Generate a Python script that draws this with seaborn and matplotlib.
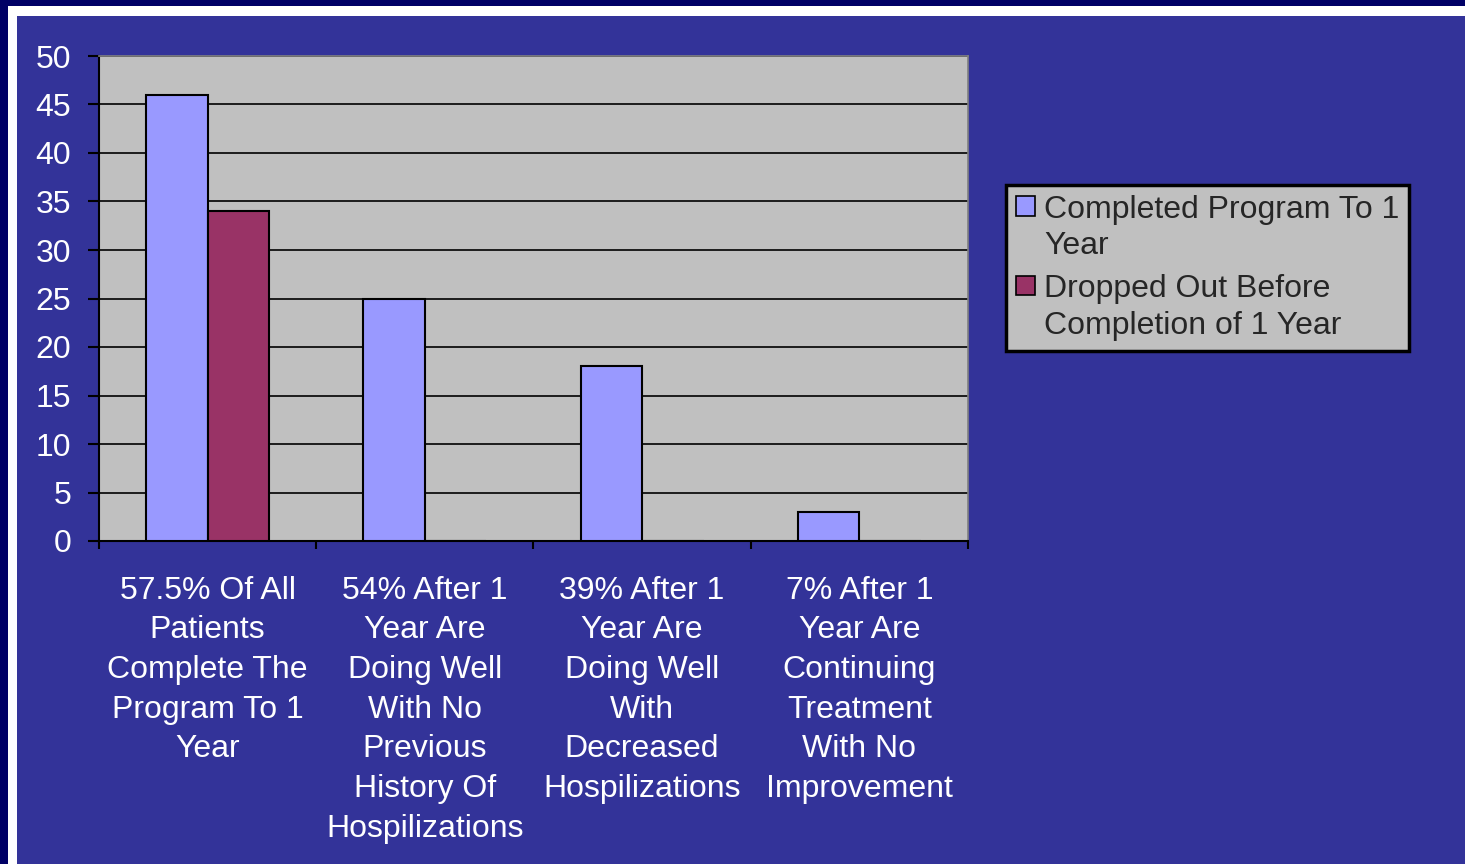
import seaborn as sns
import matplotlib.pyplot as plt
import matplotlib.patches as mpatches
from matplotlib.legend_handler import HandlerPatch
from matplotlib.ticker import FixedLocator, NullFormatter
import pandas as pd

# data
categories = [
    "57.5% Of All\nPatients\nComplete The\nProgram To 1\nYear",
    "54% After 1\nYear Are\nDoing Well\nWith No\nPrevious\nHistory Of\nHospilizations",
    "39% After 1\nYear Are\nDoing Well\nWith\nDecreased\nHospilizations",
    "7% After 1\nYear Are\nContinuing\nTreatment\nWith No\nImprovement",
]
series = ["Completed Program To 1\nYear", "Dropped Out Before\nCompletion of 1 Year"]
completed = [46, 25, 18, 3]
dropped = [34, 0, 0, 0]

df = pd.DataFrame({
    "Category": categories * 2,
    "Series": [series[0]] * 4 + [series[1]] * 4,
    "Value": completed + dropped,
})

sns.set_style("white")
plt.rcParams["font.family"] = ["Liberation Sans", "DejaVu Sans"]
FS = 23

navy = "#000066"
blue = "#333399"
fig = plt.figure(figsize=(14.65, 8.64), dpi=100, facecolor=navy)
W, H = 1465, 864
# white rim and blue slide panel
fig.patches.append(mpatches.Rectangle((8 / W, 0), 1, 1 - 6 / H, transform=fig.transFigure,
                                      facecolor="white", edgecolor="none", zorder=-2))
fig.patches.append(mpatches.Rectangle((17 / W, 0), 1, 1 - 16 / H, transform=fig.transFigure,
                                      facecolor=blue, edgecolor="none", zorder=-1))

ax = fig.add_axes([99 / W, 1 - 541 / H, 869 / W, 485 / H])
ax.set_facecolor("#C0C0C0")

sns.barplot(data=df, x="Category", y="Value", hue="Series",
            palette=["#9999FF", "#993366"], saturation=1, width=0.566,
            edgecolor="black", linewidth=1.5, ax=ax, zorder=3)

ax.set_ylim(0, 50)
ax.set_xlim(-0.5, 3.5)
ax.set_yticks(range(0, 51, 5))
ax.yaxis.grid(True, color="black", linewidth=1.2, zorder=0)
ax.set_axisbelow(True)

ax.set_xlabel("")
ax.set_ylabel("")

ax.tick_params(axis="y", labelcolor="white", color="black", labelsize=FS, length=8,
               width=1.5, direction="out", pad=12, left=True)
ax.tick_params(axis="x", which="major", length=0, labelsize=FS, labelcolor="white", pad=25)
ax.xaxis.set_minor_locator(FixedLocator([-0.5, 0.5, 1.5, 2.5, 3.5]))
ax.xaxis.set_minor_formatter(NullFormatter())
ax.tick_params(axis="x", which="minor", length=6, width=1.5, color="black",
               direction="out", bottom=True)
for lbl in ax.get_xticklabels():
    lbl.set_linespacing(1.42)
    lbl.set_verticalalignment("top")

for side in ["left", "bottom"]:
    ax.spines[side].set_color("black")
    ax.spines[side].set_linewidth(1.5)
for side in ["top", "right"]:
    ax.spines[side].set_color("#808080")
    ax.spines[side].set_linewidth(1.2)


def top_square(legend, orig_handle, xdescent, ydescent, width, height, fontsize):
    # small square aligned with the first line of a two-line label
    s = 0.6 * fontsize
    return mpatches.Rectangle((-xdescent, -ydescent + height - s + 0.38 * fontsize), s, s)


leg = ax.legend(loc="upper left", bbox_to_anchor=(1006 / W, 1 - 185 / H),
                bbox_transform=fig.transFigure, fontsize=FS, frameon=True,
                fancybox=False, framealpha=1, facecolor="#C0C0C0",
                edgecolor="black", handlelength=0.6, handleheight=1.6,
                handletextpad=0.3, labelspacing=0.4, borderpad=0.3,
                borderaxespad=0,
                handler_map={mpatches.Rectangle: HandlerPatch(patch_func=top_square)})
leg.get_frame().set_linewidth(2.5)
for t in leg.get_texts():
    t.set_linespacing(1.3)
for h in leg.legend_handles:
    h.set_edgecolor("black")
    h.set_linewidth(1.2)

fig.savefig("out.png", dpi=100, facecolor=navy)
